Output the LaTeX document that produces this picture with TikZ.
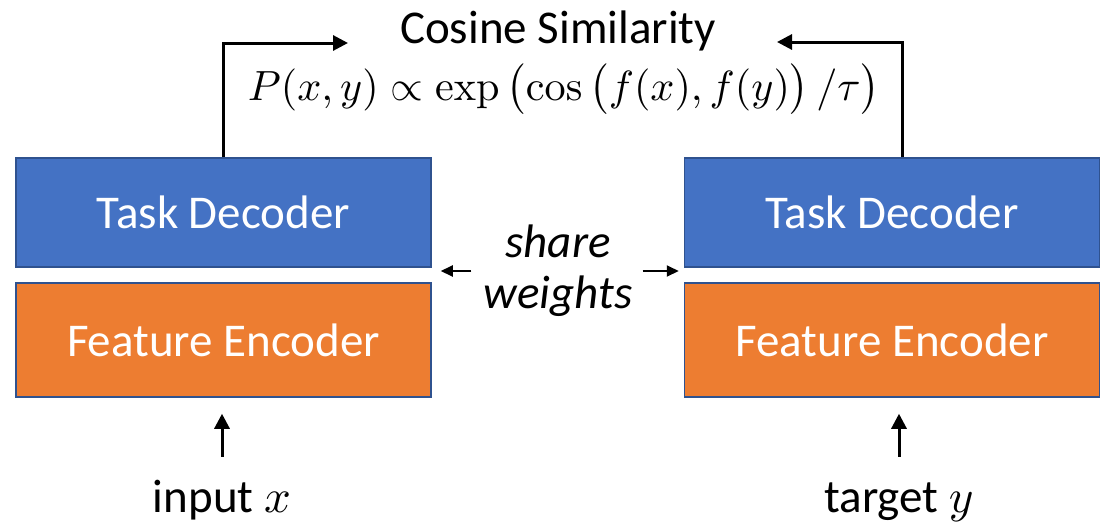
\documentclass[tikz,border=0pt]{standalone}
\usepackage[no-math]{fontspec}
\usepackage{graphicx}
\setmainfont{Carlito}
\usetikzlibrary{arrows.meta}
\definecolor{boxblue}{HTML}{4472C4}
\definecolor{boxorange}{HTML}{ED7D31}
\definecolor{boxedge}{HTML}{2F528F}
% a math symbol set at 10pt and scaled up to the 47pt label size
\newcommand\bigsym[1]{\scalebox{4.7}{\normalsize$#1$}}
\begin{document}
\begin{tikzpicture}[x=1pt,y=-1pt,
  block/.style={draw=boxedge, line width=1.5pt, text=white, inner sep=0pt,
    font=\fontsize{47}{51}\selectfont},
  decoder/.style={block, fill=boxblue, minimum width=415pt, minimum height=109pt},
  encoder/.style={block, fill=boxorange, minimum width=415pt, minimum height=114pt},
  label/.style={inner sep=0pt, font=\fontsize{47}{51}\selectfont},
  io/.style={label, text height=34pt, text depth=10pt},
  conn/.style={line width=3pt, -{Triangle[length=15pt,width=15pt]}},
  sarr/.style={line width=2pt, -{Triangle[length=12pt,width=11pt]}}]
  \useasboundingbox (0,0) rectangle (1109,525);

  % two towers with shared weights
  \node[decoder] (dec1) at (223.5,212.5) {Task Decoder};
  \node[encoder] (enc1) at (223.5,340) {Feature Encoder};
  \node[decoder] (dec2) at (892,212.5) {Task Decoder};
  \node[encoder] (enc2) at (892,340) {Feature Encoder};

  % similarity head
  \node[label, anchor=base] (cos) at (558,43) {Cosine Similarity};
  \node[inner sep=0pt, anchor=base] (sim) at (564,100)
    {\resizebox{632pt}{!}{$P(x,y) \propto \exp\,\bigl(\cos\,\bigl(f(x), f(y)\bigr)\,/\tau\bigr)$}};
  \coordinate (cosL) at (348,43);
  \coordinate (cosR) at (777,42);
  \draw[conn] (dec1.north) |- (cosL);
  \draw[conn] ([xshift=10pt]dec2.north) |- (cosR);

  % weight sharing label
  \node[label, font=\fontsize{47}{51}\selectfont\itshape, align=center] (sw) at (558,271) {share\\weights};
  \draw[sarr, shorten <=12pt, shorten >=9pt] (sw.west) -- (sw.west -| dec1.east);
  \draw[sarr, shorten <=10pt, shorten >=5pt] (sw.east) -- (sw.east -| dec2.west);

  % inputs
  \node[io, anchor=base] (inx) at (222,512) {input \bigsym{x}};
  \node[io, anchor=base] (tgt) at (899,512) {target \bigsym{y}};
  \draw[conn, shorten <=21pt, shorten >=16pt] (inx.north) -- (inx.north |- enc1.south);
  \draw[conn, shorten <=21pt, shorten >=16pt] (tgt.north) -- (tgt.north |- enc2.south);
\end{tikzpicture}
\end{document}
